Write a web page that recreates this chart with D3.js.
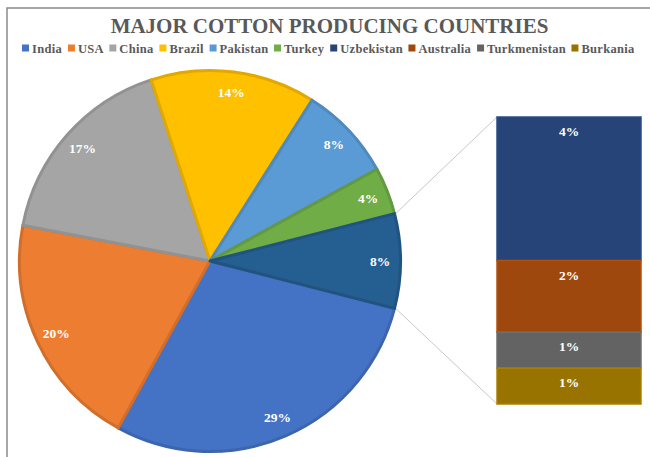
<!DOCTYPE html>
<html>
<head>
<meta charset="utf-8">
<script src="https://cdn.jsdelivr.net/npm/d3@7"></script>
<style>
  html, body { margin: 0; padding: 0; background: #ffffff; }
  svg { display: block; }
</style>
</head>
<body>
<svg id="chart" width="650" height="457"></svg>
<script>
// ---- data ----
const title = "MAJOR COTTON PRODUCING COUNTRIES";
const pieCountries = ["India", "USA", "China", "Brazil", "Pakistan", "Turkey"];
const pieShares = [29, 20, 17, 14, 8, 4];
const barCountries = ["Uzbekistan", "Australia", "Turkmenistan", "Burkania"];
const barShares = [4, 2, 1, 1];
const pieColors = ["#4472C4", "#ED7D31", "#A5A5A5", "#FFC000", "#5B9BD5", "#70AD47"];
const barColors = ["#264478", "#9E480E", "#636363", "#997300"];
const otherColor = "#255E91";

// ---- layout ----
const W = 650, H = 457;
const cx = 210, cy = 261, R = 192, labelR = 170;
const barX0 = 497, barX1 = 641, barY0 = 117, barY1 = 404;
const textColor = "#595959";
const font = "'Liberation Serif', 'Times New Roman', serif";

const svg = d3.select("#chart");

// frame
svg.append("path")
  .attr("d", `M7,${H} L7,8 L${W},8`)
  .attr("fill", "none").attr("stroke", "#8a8a8a").attr("stroke-width", 1.5);

// title
svg.append("text")
  .attr("x", 329.5).attr("y", 33)
  .attr("text-anchor", "middle")
  .attr("font-family", font).attr("font-weight", "bold")
  .attr("font-size", 21).attr("fill", textColor)
  .text(title);

// ---- pie ----
const otherTotal = d3.sum(barShares);
const total = d3.sum(pieShares) + otherTotal;
const pieData = pieCountries.map((c, i) => ({ name: c, value: pieShares[i], color: pieColors[i] }));
pieData.push({ name: "Other", value: otherTotal, color: otherColor });

const startA = Math.PI / 2 + (otherTotal / total) * Math.PI;
const pie = d3.pie().sort(null).value(d => d.value)
  .startAngle(startA).endAngle(startA + 2 * Math.PI);
const arcs = pie(pieData);
const arc = d3.arc().innerRadius(0).outerRadius(R - 1.5);
const labelArc = d3.arc().innerRadius(labelR).outerRadius(labelR);

const g = svg.append("g").attr("transform", `translate(${cx},${cy})`);
g.selectAll("path.slice").data(arcs).join("path")
  .attr("class", "slice")
  .attr("d", arc)
  .attr("fill", d => d.data.color)
  .attr("stroke", d => d3.color(d.data.color).darker(0.35))
  .attr("stroke-width", 3)
  .attr("stroke-linejoin", "round");

g.selectAll("text.lbl").data(arcs).join("text")
  .attr("class", "lbl")
  .attr("transform", d => { const p = labelArc.centroid(d); return `translate(${p[0]},${p[1] + 4.5})`; })
  .attr("text-anchor", "middle")
  .attr("font-family", font).attr("font-weight", "bold")
  .attr("font-size", 13.5).attr("fill", "#ffffff")
  .text(d => Math.round(d.data.value / total * 100) + "%");

// ---- bar of "Other" ----
const yBar = d3.scaleLinear().domain([0, otherTotal]).range([barY0, barY1]);
let acc = 0;
const barData = barCountries.map((c, i) => {
  const d = { name: c, value: barShares[i], color: barColors[i], y0: acc, y1: acc + barShares[i] };
  acc += barShares[i];
  return d;
});

// connector lines
const otherArc = arcs[arcs.length - 1];
const edgePt = a => [cx + R * Math.sin(a), cy - R * Math.cos(a)];
const pTop = edgePt(otherArc.startAngle);
const pBot = edgePt(otherArc.endAngle);
svg.append("line").attr("x1", pTop[0]).attr("y1", pTop[1]).attr("x2", barX0).attr("y2", yBar(0))
  .attr("stroke", "#c8c8c8").attr("stroke-width", 1);
svg.append("line").attr("x1", pBot[0]).attr("y1", pBot[1]).attr("x2", barX0).attr("y2", yBar(otherTotal))
  .attr("stroke", "#c8c8c8").attr("stroke-width", 1);

svg.selectAll("rect.seg").data(barData).join("rect")
  .attr("class", "seg")
  .attr("x", barX0).attr("width", barX1 - barX0)
  .attr("y", d => yBar(d.y0)).attr("height", d => yBar(d.y1) - yBar(d.y0))
  .attr("fill", d => d.color)
  .attr("stroke", d => d3.color(d.color).brighter(0.3))
  .attr("stroke-width", 1.5);

svg.selectAll("text.blbl").data(barData).join("text")
  .attr("class", "blbl")
  .attr("x", (barX0 + barX1) / 2)
  .attr("y", d => yBar(d.y0) + 19)
  .attr("text-anchor", "middle")
  .attr("font-family", font).attr("font-weight", "bold")
  .attr("font-size", 13.5).attr("fill", "#ffffff")
  .text(d => Math.round(d.value / total * 100) + "%");

// ---- legend ----
const legendNames = pieCountries.concat(barCountries);
const legendColors = pieColors.concat(barColors);
const lx0 = 22, lx1 = 635, ly = 53, sq = 7, sqGap = 3;
const lg = svg.append("g");
const items = lg.selectAll("g.item").data(legendNames).join("g").attr("class", "item");
items.append("rect").attr("width", sq).attr("height", sq)
  .attr("y", ly - 8.5).attr("fill", (d, i) => legendColors[i]);
items.append("text").attr("x", sq + sqGap).attr("y", ly)
  .attr("font-family", font).attr("font-weight", "bold")
  .attr("font-size", 12.5).attr("fill", textColor)
  .attr("letter-spacing", 0.3)
  .text(d => d);
const widths = [];
items.each(function() { widths.push(this.getBBox().width); });
const gap = ((lx1 - lx0) - d3.sum(widths)) / (legendNames.length - 1);
let xx = lx0;
items.attr("transform", (d, i) => { const t = `translate(${xx},0)`; xx += widths[i] + gap; return t; });
</script>
</body>
</html>
